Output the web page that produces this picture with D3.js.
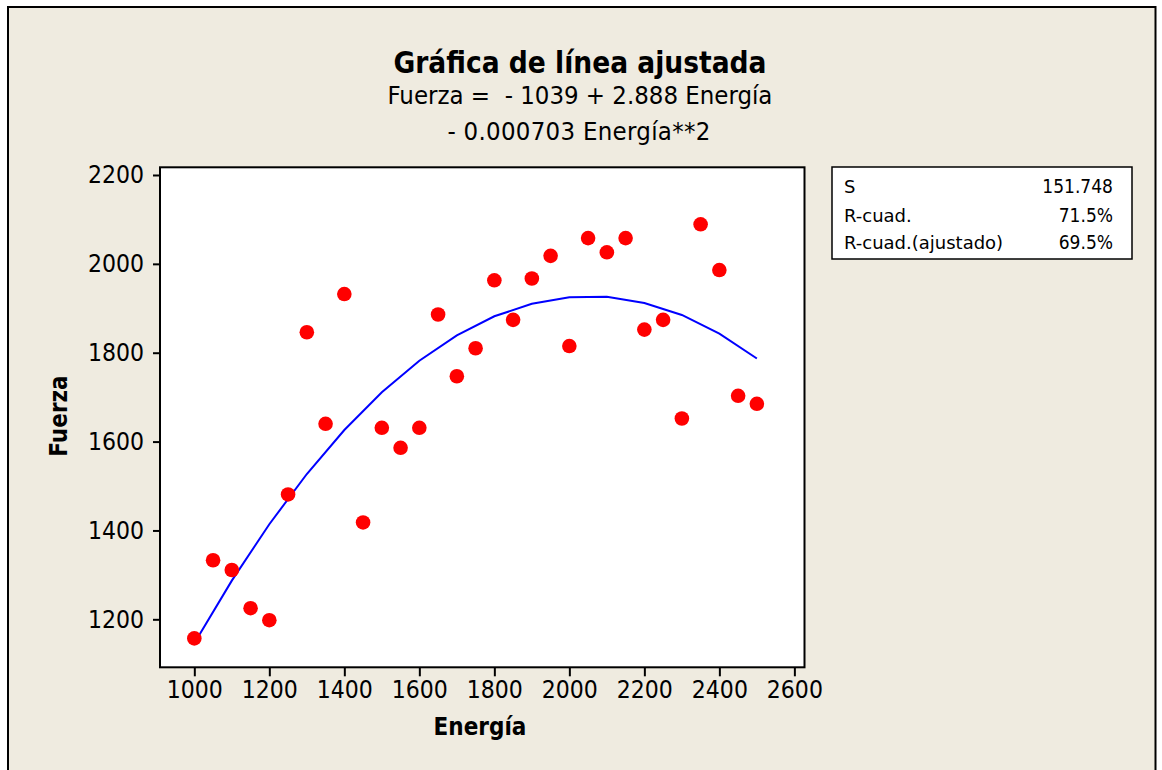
<!DOCTYPE html>
<html>
<head>
<meta charset="utf-8">
<script src="https://cdn.jsdelivr.net/npm/d3@7/dist/d3.min.js"></script>
<style>
  html, body { margin: 0; padding: 0; background: #ffffff; }
  svg { display: block; }
</style>
</head>
<body>
<svg id="chart" width="1162" height="770"></svg>
<script>
// ---- data ----
const energia = [1000,1050,1100,1150,1200,1250,1300,1350,1400,1450,1500,1550,1600,1650,1700,1750,
                 1800,1850,1900,1950,2000,2050,2100,2150,2200,2250,2300,2350,2400,2450,2500];
const fuerza  = [1157,1333,1311,1225,1198,1481,1846,1640,1932,1418,1631,1586,1631,1886,1747,1810,
                 1963,1874,1967,2018,1815,2058,2026,2058,1852,1874,1652,2089,1986,1703,1685];
const fitEnergia = [1000,1100,1200,1300,1400,1500,1600,1700,1800,1900,2000,2100,2200,2300,2400,2500];
const fitFuerza  = [1146,1287,1414,1527,1626,1711,1782,1839,1882,1910,1925,1926,1912,1885,1843,1787];
const xTicks = [1000,1200,1400,1600,1800,2000,2200,2400,2600];
const yTicks = [1200,1400,1600,1800,2000,2200];
const titleText = "Gráfica de línea ajustada";
const eqLine1 = "Fuerza =  - 1039 + 2.888 Energía";
const eqLine2 = "- 0.000703 Energía**2";
const statLabels = ["S", "R-cuad.", "R-cuad.(ajustado)"];
const statValues = ["151.748", "71.5%", "69.5%"];
const xLabel = "Energía";
const yLabel = "Fuerza";

// ---- layout ----
const FONT = "'DejaVu Sans Condensed', 'DejaVu Sans', sans-serif";
const FONT2 = "'DejaVu Sans', sans-serif";
const svg = d3.select("#chart");
const BG = "#efebe0";

// outer frame (no bottom edge visible)
svg.append("rect").attr("x", 8).attr("y", 7).attr("width", 1147.5).attr("height", 780)
  .attr("fill", BG).attr("stroke", "#000").attr("stroke-width", 2);

const plot = {left: 160, right: 804.5, top: 167.3, bottom: 667.3};

const x = d3.scaleLinear().domain([908.5, 2627]).range([plot.left, plot.right]);
const y = d3.scaleLinear().domain([1092, 2217.3]).range([plot.bottom, plot.top]);

// plot area
svg.append("rect").attr("x", plot.left).attr("y", plot.top)
  .attr("width", plot.right - plot.left).attr("height", plot.bottom - plot.top)
  .attr("fill", "#fff").attr("stroke", "#000").attr("stroke-width", 2);

// axes
const fmt = d3.format("d");
const xAxis = d3.axisBottom(x).tickValues(xTicks).tickFormat(fmt).tickSizeOuter(0).tickSizeInner(9).tickPadding(4);
const yAxis = d3.axisLeft(y).tickValues(yTicks).tickFormat(fmt).tickSizeOuter(0).tickSizeInner(7).tickPadding(9);

const gx = svg.append("g").attr("transform", `translate(0,${plot.bottom})`).call(xAxis);
const gy = svg.append("g").attr("transform", `translate(${plot.left},0)`).call(yAxis);
[gx, gy].forEach(g => {
  g.select(".domain").remove();
  g.selectAll(".tick line").attr("stroke", "#000").attr("stroke-width", 2);
  g.selectAll(".tick text").attr("fill", "#000").style("font-family", FONT).style("font-size", "24.5px");
});

// fitted line
const line = d3.line().x((d, i) => x(fitEnergia[i])).y(d => y(d));
svg.append("path").datum(fitFuerza).attr("d", line)
  .attr("fill", "none").attr("stroke", "#0000ff").attr("stroke-width", 2);

// points
svg.append("g").selectAll("circle").data(fuerza).join("circle")
  .attr("cx", (d, i) => x(energia[i])).attr("cy", d => y(d)).attr("r", 7.3)
  .attr("fill", "#ff0000");

// titles
svg.append("text").attr("x", 580).attr("y", 73).attr("text-anchor", "middle")
  .style("font-family", FONT).style("font-size", "29.5px").style("font-weight", "bold").text(titleText);
svg.append("text").attr("x", 580).attr("y", 104).attr("text-anchor", "middle")
  .style("white-space", "pre").attr("xml:space", "preserve")
  .style("font-family", FONT).style("font-size", "25.5px").text(eqLine1);
svg.append("text").attr("x", 579).attr("y", 140).attr("text-anchor", "middle")
  .style("font-family", FONT).style("font-size", "25.5px").style("letter-spacing", "0.3px").text(eqLine2);

// axis labels
svg.append("text").attr("x", 480).attr("y", 735).attr("text-anchor", "middle")
  .style("font-family", FONT).style("font-size", "24px").style("font-weight", "bold").text(xLabel);
svg.append("text").attr("transform", "translate(67,416) rotate(-90)").attr("text-anchor", "middle")
  .style("font-family", FONT).style("font-size", "24px").style("font-weight", "bold").text(yLabel);

// stats box
svg.append("rect").attr("x", 832).attr("y", 167).attr("width", 300).attr("height", 92)
  .attr("fill", "#fff").attr("stroke", "#000").attr("stroke-width", 1.5);
const rowY = [193.3, 221.7, 249.3];
statLabels.forEach((s, i) => {
  svg.append("text").attr("x", 844).attr("y", rowY[i])
    .style("font-family", FONT2).style("font-size", "18px").text(s);
  svg.append("text").attr("x", 1113).attr("y", rowY[i]).attr("text-anchor", "end")
    .style("font-family", FONT).style("font-size", "19px").text(statValues[i]);
});
</script>
</body>
</html>
